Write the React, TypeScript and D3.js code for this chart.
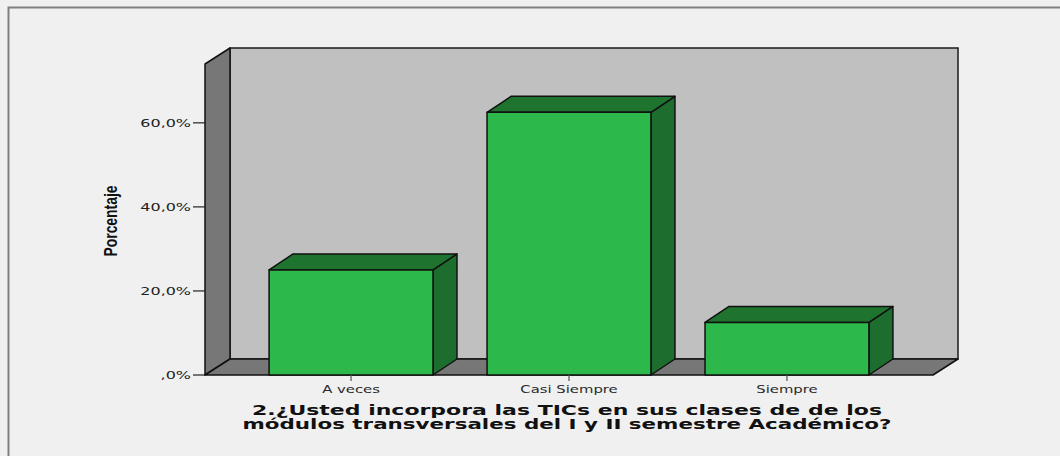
import * as d3 from "d3";

// ---- data ----
const categories = ["A veces", "Casi Siempre", "Siempre"];
const percents = [25.0, 62.5, 12.5];
const yTicks = [0, 20, 40, 60];
const titleLines = [
  "2.¿Usted incorpora las TICs en sus clases de de los",
  "módulos transversales del I y II semestre Académico?",
];
const yLabel = "Porcentaje";

const W = 1060;
const H = 456;
// front plane of the 3D box
const left = 205;
const right = 933;
const bottom = 375;
const top = 64;
const DX = 25; // depth offset
const DY = -16;

const fmt = (v: number) => (v === 0 ? ",0%" : `${v},0%`);

export default function App() {
  const x = d3
    .scaleBand<string>()
    .domain(categories)
    .range([left, right])
    .paddingInner(0.248)
    .paddingOuter(0.294);
  const y = d3.scaleLinear().domain([0, 74]).range([bottom, top]);

  const pts = (a: number[][]) => a.map((p) => p.join(",")).join(" ");

  return (
    <svg
      width={W}
      height={H}
      style={{ position: "fixed", left: 0, top: 0, display: "block" }}
    >
      <rect width={W} height={H} fill="#f0f0f0" />
      {/* outer frame */}
      <rect x={8.5} y={7.5} width={W + 20} height={H + 20} fill="none" stroke="#808080" strokeWidth={2} />

      {/* back wall */}
      <rect
        x={left + DX}
        y={top + DY}
        width={right - left}
        height={bottom - top}
        fill="#c0c0c0"
        stroke="#1a1a1a"
        strokeWidth={1.5}
      />
      {/* left wall */}
      <polygon
        points={pts([
          [left, bottom],
          [left, top],
          [left + DX, top + DY],
          [left + DX, bottom + DY],
        ])}
        fill="#777777"
        stroke="#111"
        strokeWidth={1.5}
        strokeLinejoin="round"
      />
      {/* floor */}
      <polygon
        points={pts([
          [left, bottom],
          [left + DX, bottom + DY],
          [right + DX, bottom + DY],
          [right, bottom],
        ])}
        fill="#777777"
        stroke="#111"
        strokeWidth={1.5}
        strokeLinejoin="round"
      />

      {/* bars */}
      {categories.map((c, i) => {
        const x0 = x(c)!;
        const x1 = x0 + x.bandwidth();
        const yt = y(percents[i]);
        const bdx = DX - 1;
        return (
          <g key={c} stroke="#111" strokeWidth={1.5} strokeLinejoin="round">
            <polygon
              points={pts([
                [x1, yt],
                [x1 + bdx, yt + DY],
                [x1 + bdx, bottom + DY],
                [x1, bottom],
              ])}
              fill="#1d6e2e"
            />
            <polygon
              points={pts([
                [x0, yt],
                [x0 + bdx, yt + DY],
                [x1 + bdx, yt + DY],
                [x1, yt],
              ])}
              fill="#1e732f"
            />
            <rect x={x0} y={yt} width={x1 - x0} height={bottom - yt} fill="#2db84b" />
          </g>
        );
      })}

      {/* y axis ticks */}
      {yTicks.map((t) => (
        <g key={t}>
          <line x1={193} x2={left} y1={y(t)} y2={y(t)} stroke="#222" strokeWidth={1.2} />
          <text
            x={191}
            y={y(t) + 4}
            textAnchor="end"
            fontFamily="DejaVu Sans"
            fontSize={11}
            fill="#222"
            transform={`translate(191,0) scale(1.45,1) translate(-191,0)`}
          >
            {fmt(t)}
          </text>
        </g>
      ))}

      {/* x axis ticks and labels */}
      {categories.map((c) => {
        const cx = x(c)! + x.bandwidth() / 2;
        return (
          <g key={c}>
            <line x1={cx} x2={cx} y1={bottom} y2={bottom + 6} stroke="#555" strokeWidth={1.2} />
            <text
              x={cx}
              y={393}
              textAnchor="middle"
              fontFamily="DejaVu Sans"
              fontSize={11}
              fill="#2a2a2a"
              transform={`translate(${cx},0) scale(1.35,1) translate(${-cx},0)`}
            >
              {c}
            </text>
          </g>
        );
      })}

      {/* title */}
      {titleLines.map((t, i) => (
        <text
          key={i}
          x={567}
          y={415 + i * 14}
          textAnchor="middle"
          fontFamily="DejaVu Sans"
          fontWeight="bold"
          fontSize={14}
          fill="#111"
          textLength={i === 0 ? 630 : 649}
          lengthAdjust="spacingAndGlyphs"
        >
          {t}
        </text>
      ))}

      {/* y label */}
      <text
        transform="translate(117,221) rotate(-90)"
        textAnchor="middle"
        fontFamily="Liberation Sans"
        fontWeight="bold"
        fontSize={18}
        fill="#111"
        textLength={71}
        lengthAdjust="spacingAndGlyphs"
      >
        {yLabel}
      </text>
    </svg>
  );
}
